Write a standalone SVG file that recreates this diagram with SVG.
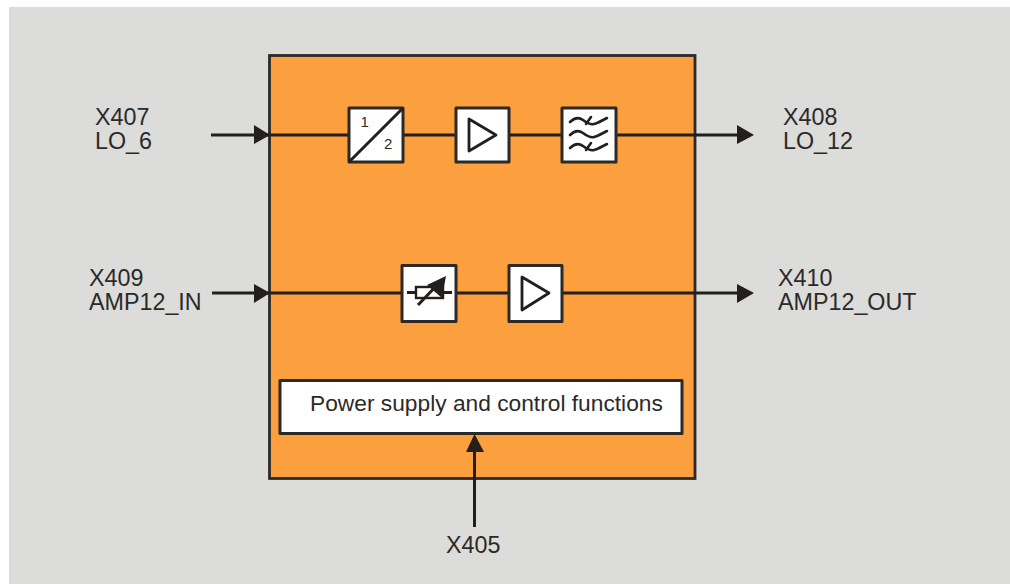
<svg xmlns="http://www.w3.org/2000/svg" width="1010" height="584" viewBox="0 0 1010 584">
<style>
.t{font-family:"Liberation Sans",Arial,sans-serif;font-size:23.3px;fill:#2b2a29}
.s{font-family:"Liberation Sans",Arial,sans-serif;font-size:15px;fill:#2b2a29}
.b{fill:#fff;stroke:#2b2a29;stroke-width:3;stroke-linejoin:round}
.l{fill:none;stroke:#231f1c;stroke-width:3}
.g{fill:none;stroke:#231f1c;stroke-width:2.600;stroke-linecap:round}
.a{fill:#231f1c;stroke:none}
.p{fill:none;stroke:#231f1c;stroke-width:2.800;stroke-linejoin:round}
</style>
<rect x="0" y="0" width="1010" height="584" fill="#fff"/>
<rect x="9" y="7" width="1001" height="577" fill="#dcdcda"/>
<g id="main-block"><rect x="269.500" y="55.500" width="425.500" height="423" fill="#fb9f3f" stroke="#2b2a29" stroke-width="2.800"/></g>
<g id="connectors">
<path class="l" d="M211 135H349M403 135H456M509 135H562M616 135H740"/>
<path class="l" d="M212 293H402M456 293H509M562 293H740"/>
<path class="l" d="M474.500 527V450"/>
<polygon class="a" points="254,125 270,135 254,144"/>
<polygon class="a" points="737,125 754,135 737,144"/>
<polygon class="a" points="254,284 270,293 254,303"/>
<polygon class="a" points="737,284 754,293 737,303"/>
<polygon class="a" points="474.500,434 484,452 466,452"/>
</g>
<g id="divider"><rect class="b" x="349" y="108" width="54" height="54"/><path class="l" d="M349 162L403 108"/><text class="s" x="360.500" y="127">1</text><text class="s" x="384" y="149">2</text></g>
<g id="amp-1"><rect class="b" x="456" y="108" width="53" height="54"/><path class="p" d="M469 119V151L496 135Z"/></g>
<g id="filter"><rect class="b" x="562" y="108" width="54" height="54"/>
<path class="g" d="M570 122C575 117 579 117 583 120S590 125 594 124 601 121 607 118M586 124L591 117"/>
<path class="g" d="M570 135C575 130 579 130 583 133S590 138 594 137 601 134 607 131"/>
<path class="g" d="M570 148C575 143 579 143 583 146S590 151 594 150 601 147 607 144M586 150L591 143"/></g>
<g id="attenuator"><rect class="b" x="402" y="265.500" width="54" height="56"/>
<path class="l" d="M407 292.500H452" stroke-width="2.400"/>
<rect x="416" y="287" width="27" height="11" fill="#fff" stroke="#231f1c" stroke-width="2.400"/>
<path class="l" d="M418 305L440 282" stroke-width="2.400"/>
<polygon class="a" points="446,276 442,298 427,285"/></g>
<g id="amp-2"><rect class="b" x="509" y="265.500" width="53" height="56"/><path class="p" d="M522 277V310L549 293Z"/></g>
<g id="power"><rect class="b" x="280" y="380.500" width="402" height="53"/><text class="t" x="310" y="411" style="font-size:22.750px">Power supply and control functions</text></g>
<g id="x407"><text class="t" x="95" y="125">X407</text><text class="t" x="95" y="149">LO_6</text></g>
<g id="x408"><text class="t" x="783" y="125">X408</text><text class="t" x="783" y="149">LO_12</text></g>
<g id="x409"><text class="t" x="89" y="285.500">X409</text><text class="t" x="89" y="309.500">AMP12_IN</text></g>
<g id="x410"><text class="t" x="778" y="285.500">X410</text><text class="t" x="778" y="309.500">AMP12_OUT</text></g>
<g id="x405"><text class="t" x="446" y="553">X405</text></g>
</svg>
